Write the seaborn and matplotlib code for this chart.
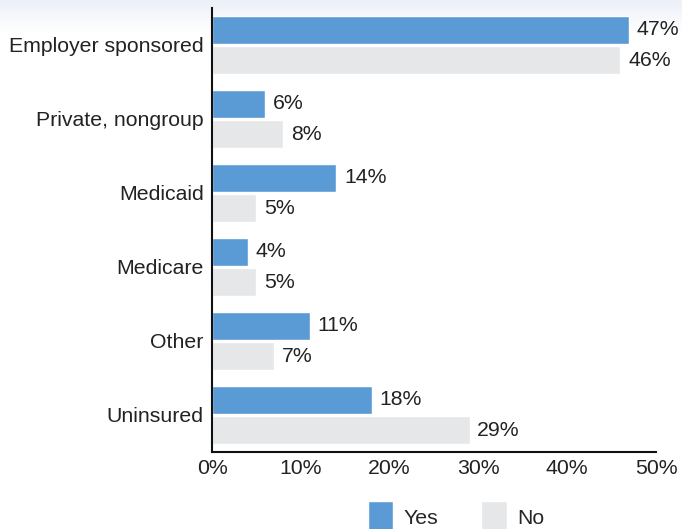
import numpy as np
import pandas as pd
import matplotlib
matplotlib.use("Agg")
import matplotlib.pyplot as plt
import seaborn as sns

categories = ["Employer sponsored", "Private, nongroup", "Medicaid", "Medicare", "Other", "Uninsured"]
yes_values = [47, 6, 14, 4, 11, 18]
no_values = [46, 8, 5, 5, 7, 29]
series = ["Yes", "No"]
xticks = [0, 10, 20, 30, 40, 50]
xtick_labels = ["0%", "10%", "20%", "30%", "40%", "50%"]

df = pd.DataFrame({
    "category": categories * 2,
    "value": yes_values + no_values,
    "series": ["Yes"] * len(categories) + ["No"] * len(categories),
})

sns.set_theme(style="white")
plt.rcParams["font.family"] = ["Liberation Sans", "DejaVu Sans"]
FS = 15.3

fig = plt.figure(figsize=(6.82, 5.29), dpi=100)

# faint gradient band at top of figure
bg = fig.add_axes([0, 0, 1, 1], zorder=-10)
grad = np.linspace(0, 1, 256).reshape(-1, 1)
top_col = np.array([0.925, 0.945, 0.975])
white = np.array([1.0, 1.0, 1.0])
t = np.clip(grad / 0.06, 0, 1)
img = top_col * (1 - t) + white * t
bg.imshow(img.reshape(256, 1, 3), aspect="auto", extent=[0, 1, 0, 1], origin="upper")
bg.set_axis_off()

ax = fig.add_axes([212 / 682, 1 - 452 / 529, (656 - 212) / 682, (452 - 8) / 529])
ax.patch.set_alpha(0)

palette = {"Yes": "#5b9bd5", "No": "#e6e7e8"}
sns.barplot(data=df, y="category", x="value", hue="series", hue_order=series,
            order=categories, palette=palette, orient="h", width=0.82, gap=0.08,
            saturation=1, ax=ax, legend=True)

for container in ax.containers:
    ax.bar_label(container, labels=[f"{v:.0f}%" for v in container.datavalues],
                 padding=5.5, fontsize=FS, color="#222222")

ax.set_xlim(0, 50)
ax.set_ylim(len(categories) - 0.5, -0.5)
ax.set_xticks(xticks)
ax.set_xticklabels(xtick_labels, fontsize=FS, color="#222222")
ax.tick_params(axis="y", labelsize=FS, labelcolor="#222222", pad=6, length=0)
ax.tick_params(axis="x", pad=5, length=0)
ax.set_xlabel("")
ax.set_ylabel("")
for s in ["top", "right"]:
    ax.spines[s].set_visible(False)
for s in ["left", "bottom"]:
    ax.spines[s].set_color("#111111")
    ax.spines[s].set_linewidth(1.5)

handles, labels = ax.get_legend_handles_labels()
ax.get_legend().remove()
fig.legend(handles, labels, loc="center", bbox_to_anchor=(456 / 682, 1 - 517 / 529),
           ncol=2, frameon=False, fontsize=FS, handlelength=1.2, handleheight=1.9,
           columnspacing=2.0, handletextpad=0.5, borderpad=0)

fig.savefig("out.png", dpi=100)
